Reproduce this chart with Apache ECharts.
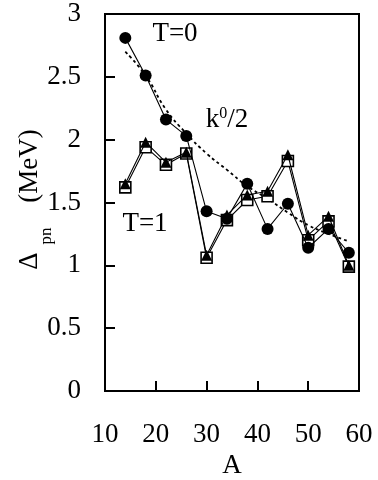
<!DOCTYPE html>
<html>
<head>
<meta charset="utf-8">
<script src="https://cdn.jsdelivr.net/npm/echarts@6/dist/echarts.min.js"></script>
<style>
html,body{margin:0;padding:0;background:#fff;}
#c{width:378px;height:480px;}
</style>
</head>
<body>
<div id="c"></div>
<script>
var massA = [14, 18, 22, 26, 30, 34, 38, 42, 46, 50, 54, 58];
var t0Circles = [2.81, 2.51, 2.16, 2.03, 1.43, 1.37, 1.65, 1.29, 1.49, 1.14, 1.29, 1.10];
var t1Triangles = [1.65, 1.98, 1.82, 1.90, 1.08, 1.40, 1.56, 1.59, 1.88, 1.24, 1.39, 1.00];
var t1Squares = [1.62, 1.94, 1.80, 1.89, 1.06, 1.36, 1.52, 1.55, 1.83, 1.20, 1.35, 0.99];
var k0Half = [2.70, 2.51, 2.24, 2.05, 1.89, 1.76, 1.63, 1.53, 1.42, 1.32, 1.25, 1.19];
var xTicks = [10, 20, 30, 40, 50, 60];
var yTicks = [0, 0.5, 1, 1.5, 2, 2.5, 3];

function pairs(xs, ys) { return xs.map(function (x, i) { return [x, ys[i]]; }); }

var FONT = '"Liberation Serif", "Times New Roman", serif';
var chart = echarts.init(document.getElementById('c'), null, {renderer: 'canvas'});
chart.setOption({
  animation: false,
  backgroundColor: '#fff',
  grid: {left: 105, right: 19, top: 14, bottom: 89, show: true, borderColor: '#000', borderWidth: 2,
         containLabel: false, outerBoundsMode: 'none'},
  xAxis: {
    type: 'value', min: xTicks[0], max: xTicks[xTicks.length - 1], interval: 10,
    name: 'A', nameLocation: 'middle', nameGap: 57,
    nameTextStyle: {fontFamily: FONT, fontSize: 27, color: '#000'},
    axisLine: {show: true, lineStyle: {color: '#000', width: 2}},
    axisTick: {show: true, inside: true, length: 10, lineStyle: {color: '#000', width: 2}},
    axisLabel: {fontFamily: FONT, fontSize: 27, color: '#000', margin: 30},
    splitLine: {show: false}
  },
  yAxis: {
    type: 'value', min: yTicks[0], max: yTicks[yTicks.length - 1], interval: 0.5,
    axisLine: {show: true, lineStyle: {color: '#000', width: 2}},
    axisTick: {show: true, inside: true, length: 10, lineStyle: {color: '#000', width: 2}},
    axisLabel: {fontFamily: FONT, fontSize: 27, color: '#000', margin: 24},
    splitLine: {show: false}
  },
  series: [
    {
      type: 'line', data: pairs(massA, k0Half), symbol: 'none', smooth: true, z: 2,
      lineStyle: {color: '#000', width: 1.8, type: [3, 3]}
    },
    {
      type: 'line', data: pairs(massA, t1Squares), symbol: 'rect', symbolSize: 11, z: 3,
      itemStyle: {color: '#fff', borderColor: '#000', borderWidth: 1.6},
      lineStyle: {color: '#000', width: 1.1}
    },
    {
      type: 'line', data: pairs(massA, t1Triangles), symbol: 'triangle', symbolSize: 11, z: 4,
      itemStyle: {color: '#000'},
      lineStyle: {color: '#000', width: 1.1}
    },
    {
      type: 'line', data: pairs(massA, t0Circles), symbol: 'circle', symbolSize: 12, z: 5,
      itemStyle: {color: '#000'},
      lineStyle: {color: '#000', width: 1.1}
    }
  ],
  graphic: [
    {type: 'text', x: 175, y: 34, style: {text: 'T=0', fontFamily: FONT, fontSize: 27, fill: '#000', align: 'center', verticalAlign: 'middle'}},
    {type: 'text', x: 145, y: 224, style: {text: 'T=1', fontFamily: FONT, fontSize: 27, fill: '#000', align: 'center', verticalAlign: 'middle'}},
    {type: 'text', x: 227, y: 120, style: {
      text: 'k{sup|0}/2', fontFamily: FONT, fontSize: 27, fill: '#000', align: 'center', verticalAlign: 'middle',
      rich: {sup: {fontFamily: FONT, fontSize: 16, fill: '#000', verticalAlign: 'top', padding: [0, 0, 12, 0]}}
    }},
    {type: 'text', x: 30, y: 261, rotation: Math.PI / 2, style: {text: 'Δ', fontFamily: FONT, fontSize: 27, fill: '#000', align: 'center', verticalAlign: 'middle'}},
    {type: 'text', x: 47, y: 236, rotation: Math.PI / 2, style: {text: 'pn', fontFamily: FONT, fontSize: 17, fill: '#000', align: 'center', verticalAlign: 'middle'}},
    {type: 'text', x: 30, y: 166, rotation: Math.PI / 2, style: {text: '(MeV)', fontFamily: FONT, fontSize: 27, fill: '#000', align: 'center', verticalAlign: 'middle'}}
  ]
});
</script>
</body>
</html>
